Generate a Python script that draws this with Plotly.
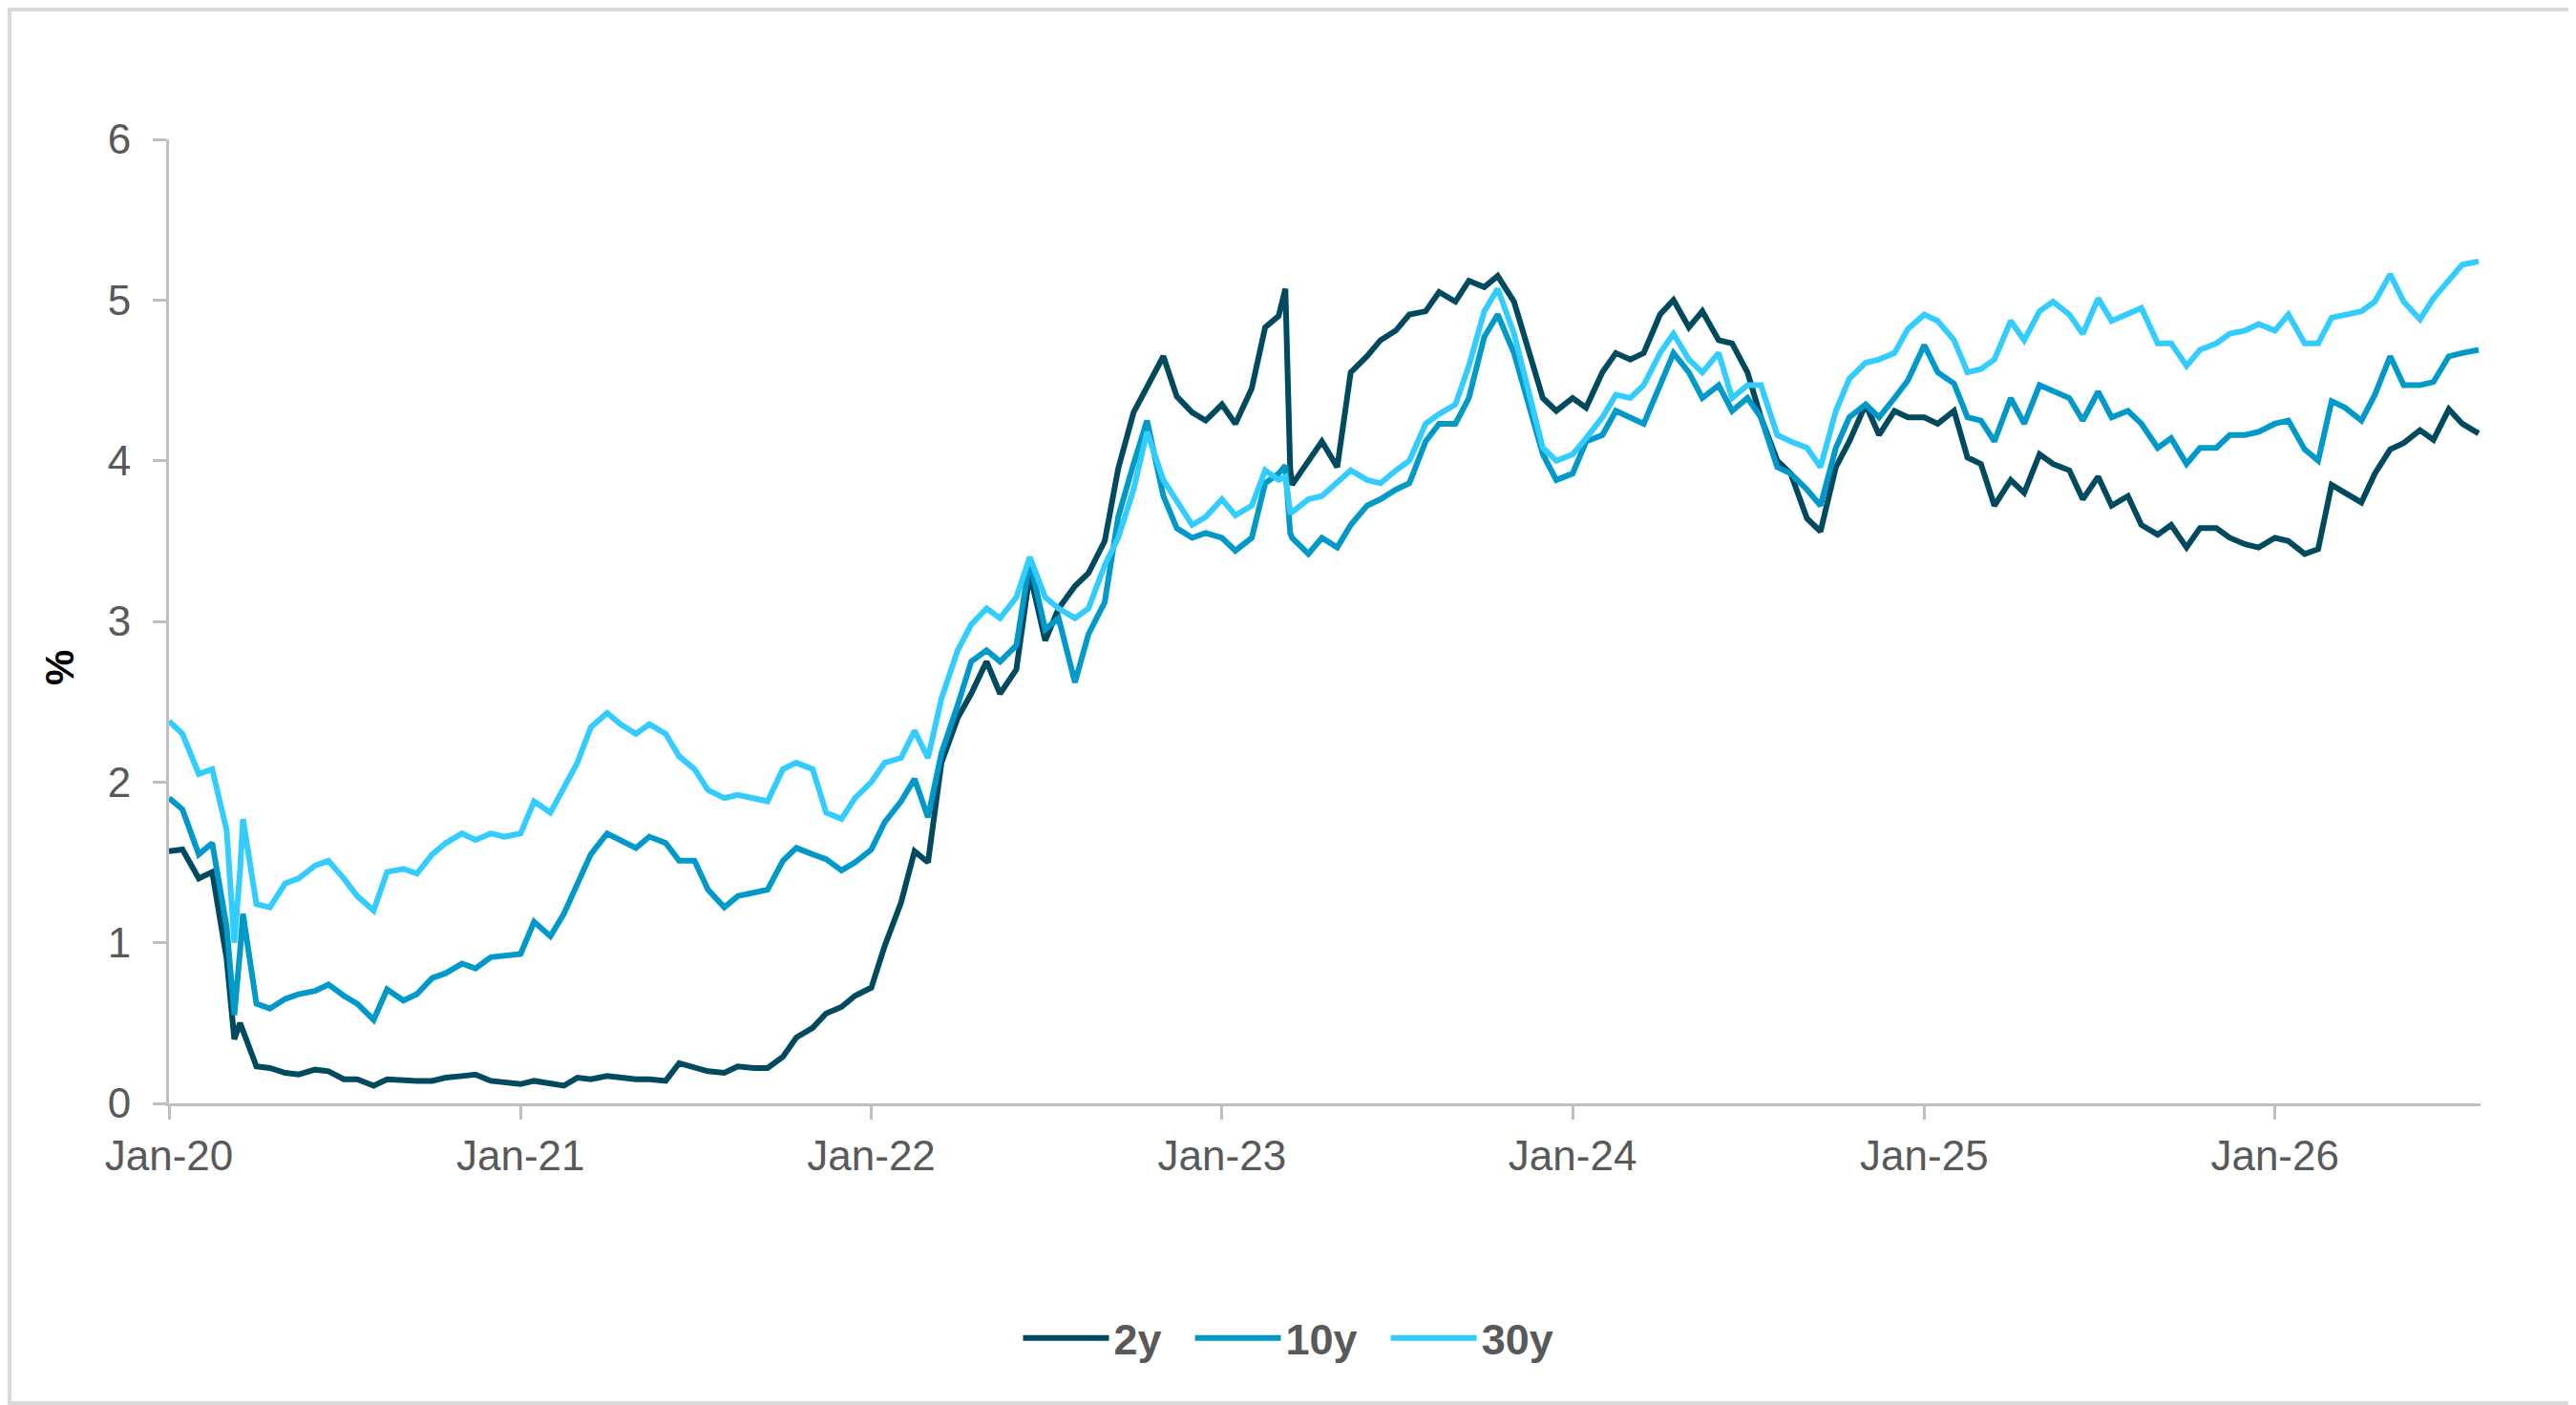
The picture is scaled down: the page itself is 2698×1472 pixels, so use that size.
import pandas as pd
import plotly.graph_objects as go

# semi-monthly readings (1st and 15th), Jan 2020 - Aug 2026
dates = pd.date_range("2020-01-01", "2026-08-01", freq="SMS")

y2 = [
    1.57, 1.58, 1.40, 1.44, 0.90, 0.50, 0.23, 0.22, 0.19, 0.18, 0.21, 0.20, 0.15, 0.15, 0.11, 0.15, 0.14, 0.14, 0.14, 0.16, 0.17, 0.18, 0.14, 0.13,
    0.12, 0.14, 0.12, 0.11, 0.16, 0.15, 0.17, 0.16, 0.15, 0.15, 0.14, 0.25, 0.22, 0.20, 0.19, 0.23, 0.22, 0.22, 0.29, 0.41, 0.47, 0.56, 0.60, 0.67,
    0.72, 0.98, 1.25, 1.57, 1.50, 2.12, 2.40, 2.55, 2.75, 2.55, 2.70, 3.30, 2.88, 3.08, 3.22, 3.30, 3.50, 3.95, 4.30, 4.45, 4.65, 4.40, 4.30, 4.25,
    4.35, 4.23, 4.45, 4.83, 4.90, 3.85, 4.00, 4.12, 3.96, 4.55, 4.65, 4.75, 4.81, 4.91, 4.93, 5.05, 4.99, 5.12, 5.08, 5.15, 4.99, 4.71, 4.39, 4.31,
    4.39, 4.33, 4.55, 4.67, 4.63, 4.67, 4.91, 5.00, 4.83, 4.93, 4.75, 4.73, 4.55, 4.27, 4.00, 3.92, 3.64, 3.56, 3.96, 4.12, 4.35, 4.16, 4.31, 4.27,
    4.27, 4.23, 4.31, 4.02, 3.98, 3.72, 3.88, 3.80, 4.04, 3.98, 3.94, 3.76, 3.90, 3.72, 3.78, 3.60, 3.54, 3.60, 3.46, 3.58, 3.58, 3.52, 3.48, 3.46,
    3.52, 3.50, 3.42, 3.45, 3.85, 3.80, 3.74, 3.92, 4.07, 4.11, 4.19, 4.13, 4.32, 4.23, 4.17,
]
y10 = [
    1.90, 1.83, 1.55, 1.62, 1.10, 0.95, 0.62, 0.59, 0.65, 0.68, 0.70, 0.74, 0.67, 0.62, 0.52, 0.71, 0.64, 0.68, 0.78, 0.81, 0.87, 0.84, 0.91, 0.92,
    0.93, 1.13, 1.04, 1.18, 1.37, 1.55, 1.68, 1.64, 1.59, 1.66, 1.62, 1.51, 1.51, 1.33, 1.22, 1.29, 1.31, 1.33, 1.51, 1.59, 1.55, 1.52, 1.45, 1.50,
    1.58, 1.75, 1.88, 2.02, 1.78, 2.18, 2.48, 2.75, 2.82, 2.75, 2.85, 3.38, 2.95, 3.02, 2.62, 2.92, 3.12, 3.65, 3.98, 4.25, 3.78, 3.58, 3.52, 3.55,
    3.52, 3.44, 3.52, 3.86, 3.92, 3.52, 3.42, 3.52, 3.46, 3.60, 3.72, 3.76, 3.82, 3.86, 4.12, 4.23, 4.23, 4.39, 4.77, 4.91, 4.67, 4.39, 4.04, 3.88,
    3.92, 4.12, 4.16, 4.31, 4.27, 4.23, 4.47, 4.67, 4.55, 4.39, 4.47, 4.31, 4.39, 4.27, 3.96, 3.92, 3.82, 3.72, 4.08, 4.27, 4.35, 4.27, 4.39, 4.50,
    4.72, 4.55, 4.48, 4.27, 4.25, 4.12, 4.39, 4.23, 4.47, 4.43, 4.39, 4.25, 4.43, 4.27, 4.31, 4.23, 4.08, 4.14, 3.98, 4.08, 4.08, 4.16, 4.16, 4.18,
    4.23, 4.25, 4.07, 4.00, 4.37, 4.33, 4.25, 4.41, 4.65, 4.47, 4.47, 4.49, 4.65, 4.67, 4.69,
]
y30 = [
    2.38, 2.30, 2.05, 2.08, 1.70, 1.45, 1.24, 1.22, 1.37, 1.40, 1.48, 1.51, 1.40, 1.29, 1.20, 1.44, 1.46, 1.43, 1.55, 1.62, 1.68, 1.64, 1.68, 1.66,
    1.68, 1.88, 1.81, 1.97, 2.12, 2.34, 2.43, 2.36, 2.30, 2.36, 2.30, 2.16, 2.08, 1.95, 1.90, 1.92, 1.90, 1.88, 2.08, 2.12, 2.08, 1.81, 1.77, 1.90,
    2.00, 2.12, 2.15, 2.32, 2.15, 2.52, 2.82, 2.98, 3.08, 3.02, 3.15, 3.40, 3.15, 3.08, 3.02, 3.08, 3.35, 3.52, 3.82, 4.18, 3.88, 3.75, 3.60, 3.65,
    3.76, 3.66, 3.72, 3.94, 3.88, 3.68, 3.76, 3.78, 3.86, 3.94, 3.88, 3.86, 3.94, 4.00, 4.23, 4.29, 4.35, 4.59, 4.93, 5.07, 4.79, 4.47, 4.08, 4.00,
    4.04, 4.14, 4.27, 4.41, 4.39, 4.47, 4.67, 4.79, 4.63, 4.55, 4.67, 4.39, 4.47, 4.47, 4.16, 4.12, 4.08, 3.96, 4.31, 4.51, 4.61, 4.63, 4.67, 4.82,
    4.91, 4.87, 4.75, 4.55, 4.57, 4.63, 4.87, 4.75, 4.93, 4.99, 4.91, 4.79, 5.01, 4.87, 4.91, 4.95, 4.73, 4.73, 4.59, 4.69, 4.73, 4.79, 4.81, 4.85,
    4.81, 4.91, 4.73, 4.73, 4.89, 4.91, 4.93, 4.99, 5.16, 4.99, 4.88, 5.01, 5.12, 5.22, 5.24,
]

# a few extra days around the sharp moves (Mar 2020, Mar 2023)
extra_dates = pd.to_datetime(["2020-03-09", "2020-03-18", "2023-03-08", "2023-03-13"])
y2_extra = [0.40, 0.45, 5.07, 3.95]
y10_extra = [0.55, 1.18, 3.97, 3.55]
y30_extra = [1.00, 1.77, 3.90, 3.68]

df = pd.DataFrame({
    "date": list(dates) + list(extra_dates),
    "2y": y2 + y2_extra,
    "10y": y10 + y10_extra,
    "30y": y30 + y30_extra,
}).sort_values("date")

colors = {"2y": "#004A5F", "10y": "#0099C9", "30y": "#33CCFF"}

fig = go.Figure()
for name in ["2y", "10y", "30y"]:
    fig.add_trace(go.Scatter(
        x=df["date"],
        y=df[name],
        name=name + "\u00a0\u00a0",  # a bit of room before the next legend item
        mode="lines",
        line=dict(color=colors[name], width=6),
        hoverinfo="skip",
    ))

# page body adds 8px at top/left, so the figure is 8px smaller
W, H = 2690, 1464
L, R, T, B = 169, 100, 138, 316
pw, ph = W - L - R, H - T - B

font_family = "Arial, Liberation Sans, sans-serif"
axis_font = dict(family=font_family, size=44, color="#595959")

fig.update_layout(
    width=W,
    height=H,
    margin=dict(l=L, r=R, t=T, b=B),
    plot_bgcolor="white",
    paper_bgcolor="white",
    showlegend=True,
    legend=dict(
        orientation="h",
        x=(1362 - 8 - L) / pw,
        xanchor="center",
        y=-(1402 - 8 - (H - B)) / ph,
        yanchor="middle",
        font=dict(family=font_family, size=45, color="#595959", weight="bold"),
        itemwidth=90,
    ),
    xaxis=dict(
        type="date",
        range=["2020-01-01", "2026-08-03"],
        tick0="2020-01-01",
        dtick="M12",
        tickformat="%b-%y",
        showgrid=False,
        zeroline=False,
        showline=True,
        linecolor="#BFBFBF",
        linewidth=3,
        ticks="outside",
        ticklen=14,
        tickwidth=3,
        tickcolor="#BFBFBF",
        tickfont=axis_font,
    ),
    yaxis=dict(
        range=[0, 6],
        dtick=1,
        showgrid=False,
        zeroline=False,
        showline=True,
        linecolor="#BFBFBF",
        linewidth=3,
        ticks="outside",
        ticklen=14,
        tickwidth=3,
        tickcolor="#BFBFBF",
        tickfont=axis_font,
        ticklabelstandoff=14,
    ),
    annotations=[dict(
        text="%",
        xref="paper",
        yref="paper",
        x=(62 - 8 - L) / pw,
        y=((H - B) - (700 - 8)) / ph,
        xanchor="center",
        yanchor="middle",
        showarrow=False,
        textangle=-90,
        font=dict(family=font_family, size=42, color="black", weight="bold"),
    )],
    shapes=[dict(
        type="rect",
        xref="paper",
        yref="paper",
        x0=(-L + 2) / pw,
        x1=1 + (R - 2) / pw,
        y0=(-B + 2) / ph,
        y1=1 + (T - 2) / ph,
        line=dict(color="#D9D9D9", width=4),
        layer="below",
    )],
)

fig.write_html("out.html")
